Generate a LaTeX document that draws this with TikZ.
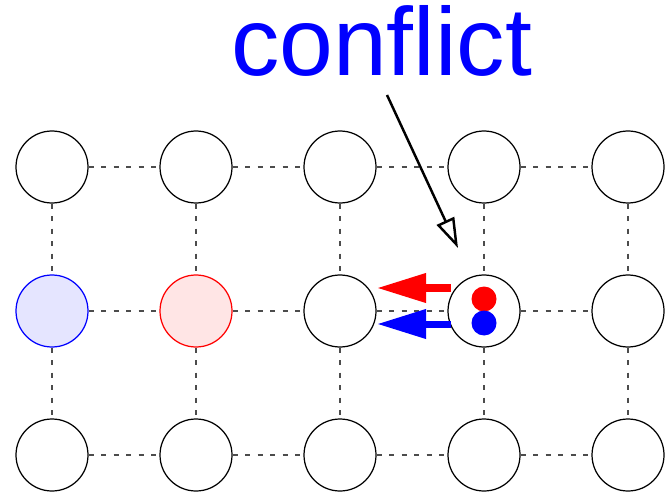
\documentclass[tikz,border=0pt]{standalone}
\usepackage{fontspec}
\setmainfont{Liberation Sans}[Ligatures=NoCommon]
\usetikzlibrary{arrows.meta}

\begin{document}
\begin{tikzpicture}[
			cell/.style={circle, draw, minimum size=1.44cm, inner sep=0pt, line width=0.7pt}
			,s01/.style={draw=blue, fill=blue!10}
			,s11/.style={draw=red, fill=red!10}
			,dot/.style={circle, minimum size=0.5cm, inner sep=0pt}
			,link/.style={draw=black!70, line width=0.65pt, dash pattern=on 0.1cm off 0.15cm}
			,mv/.style={line width=0.14cm, -{Triangle[length=0.98cm, width=0.56cm]}}
		]
			\useasboundingbox (0,0) rectangle (13.32,9.96);
			% grid of cells, n<col><row>
			\foreach \i in {0,...,4}
				\foreach \j in {0,1,2}
					\node [cell, s\i\j/.try] (n\i\j) at (1.04+2.88*\i, 6.62-2.88*\j) {};
			% dashed links
			\foreach \i [count=\k from 1] in {0,...,3}
				\foreach \j in {0,1,2}
					\draw [link] (n\i\j) -- (n\k\j);
			\foreach \j [count=\k from 1] in {0,1}
				\foreach \i in {0,...,4}
					\draw [link] (n\i\j) -- (n\i\k);

			% two agents in the same cell
			\node [dot, fill=red] (rdot) at ([yshift=0.24cm]n31.center) {};
			\node [dot, fill=blue] (bdot) at ([yshift=-0.24cm]n31.center) {};

			\coordinate (rs) at ([shift={(-0.66,0.46)}]n31.center);
			\coordinate (re) at ([shift={(-2.14,0.46)}]n31.center);
			\coordinate (bs) at ([shift={(-0.66,-0.26)}]n31.center);
			\coordinate (be) at ([shift={(-2.14,-0.26)}]n31.center);
			\draw [mv, red] (rs) -- (re);
			\draw [mv, blue] (bs) -- (be);

			% label
			\node [text=blue, font=\fontsize{55}{60}\selectfont, anchor=base, inner sep=0pt] (conflict) at (7.63,8.44) {conflict};
			\coordinate (tail) at (7.74,8.06);
			\coordinate (tip) at ([shift={(-0.52,1.26)}]n31.center);
			\draw [line width=1.4pt, -{Triangle[open, length=0.6cm, width=0.38cm]}] (tail) -- (tip);
		\end{tikzpicture}
\end{document}
